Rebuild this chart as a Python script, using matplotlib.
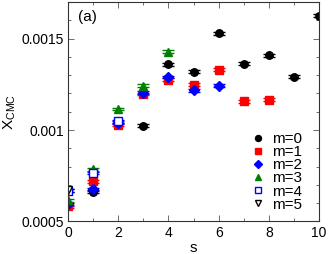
import matplotlib
matplotlib.use("Agg")
import matplotlib.pyplot as plt
from matplotlib.ticker import MultipleLocator, FuncFormatter

plt.rcParams["font.family"] = "Liberation Sans"
plt.rcParams["mathtext.fontset"] = "custom"
plt.rcParams["mathtext.rm"] = "Liberation Sans"
plt.rcParams["mathtext.it"] = "Liberation Sans"

# values, one pair of arrays per m
s_m0 = [1, 3, 4, 5, 6, 7, 8, 9, 10]
x_m0 = [0.000662, 0.001023, 0.00136, 0.00132, 0.001528, 0.001363, 0.001408, 0.001292, 0.001626]
s_m1 = [0, 1, 2, 3, 4, 5, 6, 7, 8]
x_m1 = [0.000584, 0.00072, 0.00103, 0.001197, 0.001275, 0.001247, 0.001329, 0.001157, 0.001166]
s_m2 = [0, 1, 2, 3, 4, 5, 6]
x_m2 = [0.000595, 0.000675, 0.00104, 0.001205, 0.00129, 0.001218, 0.001242]
s_m3 = [0, 1, 2, 3, 4]
x_m3 = [0.000616, 0.000785, 0.001115, 0.001242, 0.001428]
s_m4 = [0, 1, 2]
x_m4 = [0.000667, 0.000765, 0.001048]
s_m5 = [0]
x_m5 = [0.000671]
labels = ["m=0", "m=1", "m=2", "m=3", "m=4", "m=5"]

ERR = 0.000008

series = [
    (s_m0, x_m0, "o", "black", "black"),
    (s_m1, x_m1, "s", "red", "red"),
    (s_m2, x_m2, "D", "blue", "blue"),
    (s_m3, x_m3, "^", "green", "green"),
    (s_m4, x_m4, "s", "blue", "white"),
    (s_m5, x_m5, "v", "black", "white"),
]

fig = plt.figure(figsize=(3.28, 2.54), dpi=100)
ax = fig.add_axes([0.207, 0.128, 0.766, 0.864])

handles = []
for (s, x, marker, edge, face), label in zip(series, labels):
    ms = 4.6 if marker == "D" else 5.4
    cont = ax.errorbar(s, x, yerr=ERR, fmt=marker, ms=ms, mec=edge, mfc=face,
                       mew=1.0, ecolor=edge, elinewidth=0.6, capsize=4,
                       capthick=0.6)
    handles.append(cont[0])

ax.set_xlim(0, 10)
ax.set_ylim(0.0005, 0.0017)
ax.xaxis.set_major_locator(MultipleLocator(2))
ax.xaxis.set_minor_locator(MultipleLocator(1))
ax.yaxis.set_major_locator(MultipleLocator(0.0005))
ax.yaxis.set_minor_locator(MultipleLocator(0.0001))
ax.yaxis.set_major_formatter(FuncFormatter(lambda v, p: "%g" % v))
ax.tick_params(which="both", direction="in", top=True, right=True, labelsize=10,
               width=0.6, color="#555555")
ax.tick_params(which="major", length=4.5, pad=3)
ax.tick_params(which="minor", length=2.5)
for sp in ax.spines.values():
    sp.set_linewidth(0.8)
    sp.set_color("#333333")

ax.set_xlabel("s", fontsize=11, labelpad=1)
ax.set_ylabel(r"X$_{\rm CMC}$", fontsize=11, labelpad=2)
ax.text(0.04, 0.965, "(a)", transform=ax.transAxes, fontsize=11, va="top", ha="left")

ax.legend(handles, labels, loc="lower right", bbox_to_anchor=(0.93, 0.045),
          frameon=False, fontsize=11, handlelength=1.0, handletextpad=0.4,
          labelspacing=-0.06, borderaxespad=0, borderpad=0, markerscale=0.8)

fig.savefig("out.png", dpi=100)
